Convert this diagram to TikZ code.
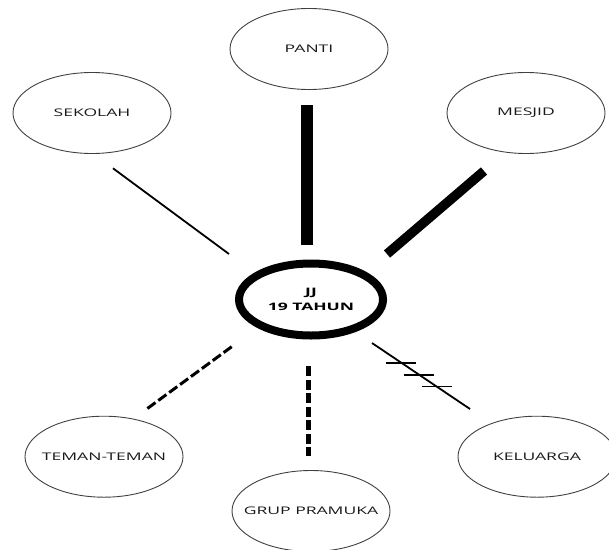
\documentclass[tikz,border=0pt]{standalone}
\usepackage{graphicx}
\usepackage{fontspec}
\setmainfont{Open Sans}
\usetikzlibrary{shapes.geometric,calc}
\newcommand{\widetxt}[1]{\makebox[0pt]{\scalebox{1.67}[1]{#1}}}
\newcommand{\hubtxt}[1]{\makebox[0pt]{\scalebox{1.7}[1]{#1}}}
\begin{document}
\begin{tikzpicture}[x=1pt,y=-1pt,
  place/.style={ellipse, draw=black!75, line width=0.9pt, minimum width=158pt,
    minimum height=81pt, inner sep=0pt, text=black!90,
    font=\fontsize{10.5}{12}\selectfont},
  hub/.style={ellipse, draw=black, line width=8pt, minimum width=144pt,
    minimum height=72pt, inner sep=0pt, align=center,
    font=\fontsize{10.3}{12}\selectfont\bfseries},
  strong/.style={line width=#1, line cap=butt},
  dashlink/.style={line width=#1, dash pattern=on 10pt off 3.5pt},
  thinlink/.style={line width=1.8pt},
  hatchmark/.style={line width=1.8pt}]
\useasboundingbox (0,0) rectangle (609,549);
\clip (0,0) rectangle (609,549);

% nodes
\node[hub] (jj) at (311,299.5) {\hubtxt{JJ}\\[2.5pt]\hubtxt{19 TAHUN}};
\node[place] (panti) at (309,49) {\widetxt{PANTI}};
\node[place] (sekolah) at (92,113) {\widetxt{SEKOLAH}};
\node[place] (mesjid) at (526,113) {\widetxt{MESJID}};
\node[place] (teman) at (104,456.7) {\widetxt{TEMAN-TEMAN}};
\node[place] (grup) at (311,511) {\widetxt{GRUP PRAMUKA}};
\node[place] (keluarga) at (537,456.7) {\widetxt{KELUARGA}};

% connector end points
\coordinate (s1) at (113,168.3);
\coordinate (s2) at (229,254);
\coordinate (p1) at (307,105);
\coordinate (p2) at (307,245);
\coordinate (m1) at (484,171);
\coordinate (m2) at (387,254);
\coordinate (t1) at (231.7,346.7);
\coordinate (t2) at (146.7,409);
\coordinate (g1) at (308,366);
\coordinate (g2) at (308,456);
\coordinate (k1) at (372,343);
\coordinate (k2) at (470,409);

% connectors
\draw[thinlink] (s1) -- (s2);
\draw[strong=12.7pt] (p1) -- (p2);
\draw[strong=9.5pt] (m1) -- (m2);
\draw[dashlink=3pt] (t1) -- (t2);
\draw[dashlink=5pt] (g1) -- (g2);
\draw[thinlink] (k1) -- (k2);

% hatch marks on the KELUARGA link
\foreach \t/\n in {0.30/ha,0.48/hb,0.66/hc}{
  \coordinate (\n) at ($(k1)!\t!(k2)$);
  \draw[hatchmark] ($(\n)+(-15,0)$) -- ($(\n)+(15,0)$);
}
\end{tikzpicture}
\end{document}
